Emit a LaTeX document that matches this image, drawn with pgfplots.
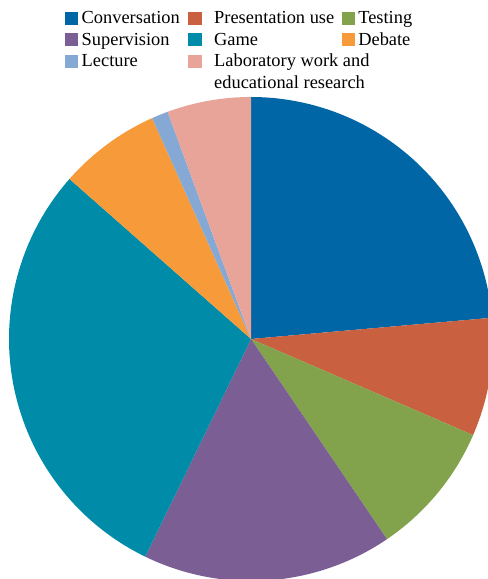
\documentclass[border=0pt]{standalone}
\usepackage{fontspec}
\setmainfont{Liberation Serif}
\usepackage{pgfplots}
\pgfplotsset{compat=1.18}
\definecolor{cConv}{RGB}{0,102,166}
\definecolor{cPres}{RGB}{201,96,63}
\definecolor{cTest}{RGB}{130,163,76}
\definecolor{cSup}{RGB}{123,94,148}
\definecolor{cGame}{RGB}{0,140,168}
\definecolor{cDeb}{RGB}{247,155,58}
\definecolor{cLec}{RGB}{134,168,212}
\definecolor{cLab}{RGB}{232,164,152}
\newfontfamily\legfont{Liberation Serif}
% pie centre and radius in axis units (pixels)
\def\cx{251}\def\cy{240}\def\rr{242}
\def\curang{90}
\newcommand\pieslice[2]{% share in percent, colour
  \pgfmathsetmacro\angB{\curang-3.6*#1}%
  \edef\doslice{\noexpand\addplot[fill=#2, draw=none, domain=\angB:\curang, samples=90]
    ({\cx+\rr*cos(x)},{\cy+\rr*sin(x)}) -- (axis cs:\cx,\cy) -- cycle;}%
  \doslice
  \global\let\curang\angB
}
\begin{document}
\begin{tikzpicture}
\begin{axis}[
  width=488bp, height=579bp, scale only axis,
  xmin=0, xmax=488, ymin=0, ymax=579,
  axis lines=none, ticks=none, clip=true, clip bounding box=upper bound,
  legend columns=3,
  legend image code/.code={\fill[#1] (0bp,-6.65bp) rectangle (13.3bp,6.65bp);},
  legend style={at={(0.13320,0.98299)}, anchor=north west, draw=none, fill=none,
    inner sep=0pt, outer sep=0pt, column sep=0pt, row sep=4.5bp,
    /tikz/every odd column/.append style={column sep=3.4bp},
    font=\legfont\fontsize{18.4bp}{21.5bp}\selectfont,
    nodes={inner sep=0pt, text height=14bp, text depth=3bp},
    cells={anchor=west}},
]
\pieslice{23.6}{cConv}
\addlegendentry{\makebox[106.6bp][l]{Conversation}}
\pieslice{7.9}{cPres}
\addlegendentry{\makebox[136.6bp][l]{\hspace{9.2bp}Presentation use}}
\pieslice{9.0}{cTest}
\addlegendentry{Testing}
\pieslice{16.7}{cSup}
\addlegendentry{\makebox[106.6bp][l]{Supervision}}
\pieslice{29.3}{cGame}
\addlegendentry{\makebox[136.6bp][l]{\hspace{9.2bp}Game}}
\pieslice{6.8}{cDeb}
\addlegendentry{Debate}
\pieslice{1.1}{cLec}
\addlegendentry{\makebox[106.6bp][l]{Lecture}}
\pieslice{5.6}{cLab}
\addlegendentry{\makebox[136.6bp][l]{\hspace{9.2bp}\begin{tabular}[t]{@{}l@{}}Laboratory work and\\educational research\end{tabular}}}
\end{axis}
\pgfresetboundingbox
\path (current axis.south west) rectangle (current axis.north east);
\end{tikzpicture}
\end{document}
